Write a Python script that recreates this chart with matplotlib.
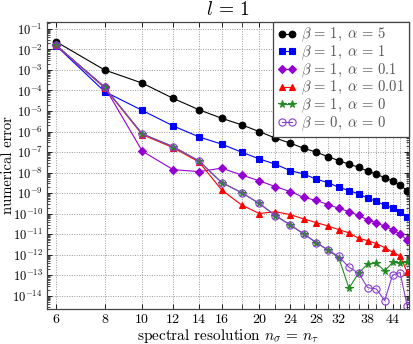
import numpy as np
import matplotlib
matplotlib.use('Agg')
import matplotlib.pyplot as plt
import matplotlib.ticker as ticker

plt.rcParams['font.family'] = 'serif'
plt.rcParams['font.serif'] = ['cmr10']
plt.rcParams['mathtext.fontset'] = 'cm'
plt.rcParams['axes.formatter.use_mathtext'] = True

n = np.arange(6, 49, 2)

# log10 of the numerical error
err_b1_a5 = [-1.62, -3.00, -3.64, -4.38, -4.94, -5.35, -5.67, -6.00, -6.32, -6.56, -6.81,
             -7.00, -7.22, -7.41, -7.59, -7.73, -7.93, -8.07, -8.25, -8.40, -8.61, -8.87]
err_b1_a1 = [-1.81, -4.05, -4.97, -5.72, -6.26, -6.61, -7.00, -7.33, -7.59, -7.90, -8.06,
             -8.32, -8.48, -8.71, -8.87, -9.03, -9.24, -9.40, -9.58, -9.72, -9.89, -10.17]
err_b1_a01 = [-1.80, -3.82, -6.95, -7.85, -7.95, -7.78, -8.11, -8.40, -8.68, -8.92, -9.20,
              -9.35, -9.55, -9.73, -9.90, -10.08, -10.30, -10.45, -10.60, -10.78, -11.00, -11.27]
err_b1_a001 = [-1.80, -3.86, -6.15, -6.78, -7.48, -8.84, -9.57, -9.99, -9.90, -10.04, -10.25,
               -10.43, -10.59, -10.77, -10.93, -11.19, -11.31, -11.45, -11.65, -11.86, -12.05, -12.85]
err_b1_a0 = [-1.78, -3.85, -6.11, -6.73, -7.43, -8.48, -8.97, -9.50, -10.09, -10.54, -10.98,
             -11.40, -11.76, -12.14, -13.62, -12.89, -12.44, -12.41, -12.78, -12.37, -12.40, -12.36]
err_b0_a0 = [-1.78, -3.85, -6.11, -6.73, -7.43, -8.48, -8.97, -9.50, -10.09, -10.54, -10.98,
             -11.40, -11.76, -12.08, -12.60, -12.89, -13.60, -13.66, -14.23, -12.99, -12.86, -14.49]

xtick_vals = [6, 8, 10, 12, 14, 16, 20, 24, 28, 32, 38, 44]

series = [
    (err_b1_a5, r'$\beta\,=\,1,\;\alpha\,=\,5$', 'black', 'o', 'black'),
    (err_b1_a1, r'$\beta\,=\,1,\;\alpha\,=\,1$', '#0000ff', 's', '#0000ff'),
    (err_b1_a01, r'$\beta\,=\,1,\;\alpha\,=\,0.1$', '#9400d3', 'D', '#9400d3'),
    (err_b1_a001, r'$\beta\,=\,1,\;\alpha\,=\,0.01$', '#ff0000', '^', '#ff0000'),
    (err_b1_a0, r'$\beta\,=\,1,\;\alpha\,=\,0$', '#228b22', '*', '#228b22'),
    (err_b0_a0, r'$\beta\,=\,0,\;\alpha\,=\,0$', '#8a3ccf', 'o', 'none'),
]

fig = plt.figure(figsize=(4.14, 3.44), dpi=100)
ax = fig.add_axes([0.1135, 0.1009, 0.8735, 0.8361])

for vals, lab, col, mk, fc in series:
    ms = {'o': 4.8, 's': 4.2, 'D': 3.6, '^': 4.6, '*': 5.5}[mk]
    if fc == 'none':
        ms = 5.2
    ax.plot(n, 10.0 ** np.array(vals), color=col, lw=0.8, marker=mk, ms=ms,
            mfc=fc, mec=col, mew=0.8, label=lab)

ax.set_xscale('log')
ax.set_yscale('log')
ax.set_xlim(5.69, 48.4)
ax.set_ylim(10 ** -14.65, 10 ** -0.65)

ax.xaxis.set_major_locator(ticker.FixedLocator(xtick_vals))
ax.xaxis.set_major_formatter(ticker.FixedFormatter([str(v) for v in xtick_vals]))
ax.xaxis.set_minor_locator(ticker.FixedLocator([v for v in n if v not in xtick_vals]))
ax.xaxis.set_minor_formatter(ticker.NullFormatter())
ax.yaxis.set_major_locator(ticker.LogLocator(base=10, numticks=30))
ax.yaxis.set_minor_locator(ticker.LogLocator(base=10, subs=np.arange(2, 10), numticks=300))
ax.yaxis.set_minor_formatter(ticker.NullFormatter())

ax.tick_params(which='both', direction='in', top=True, right=True, colors='black')
ax.tick_params(axis='y', labelsize=9, pad=3)
ax.tick_params(axis='x', labelsize=10)
ax.tick_params(which='major', length=3.5, width=0.6)
ax.tick_params(which='minor', length=2, width=0.5)
ax.tick_params(axis='x', which='minor', length=3.5)

ax.grid(True, which='major', axis='both', color='#999999', ls=(0, (1, 1.5)), lw=0.7)
ax.grid(True, which='minor', axis='x', color='#999999', ls=(0, (1, 1.5)), lw=0.7)

for sp in ax.spines.values():
    sp.set_color('#444444')
    sp.set_linewidth(0.9)

ax.set_title(r'$l\,=\,1$', fontsize=14, pad=5)
ax.set_ylabel('numerical error', fontsize=10.5)
ax.yaxis.set_label_coords(-0.088, 0.5)
ax.set_xlabel(r'spectral resolution $n_\sigma\,=\,n_\tau$', fontsize=11)
ax.xaxis.set_label_coords(0.5, -0.063)

leg = ax.legend(loc='upper right', fontsize=10.5, fancybox=False, framealpha=1,
                edgecolor='#444444', borderaxespad=0, handlelength=1.3, numpoints=2,
                handletextpad=0.3, labelspacing=-0.05, borderpad=0.3, labelcolor='#555555')
leg.get_frame().set_linewidth(0.9)

fig.savefig('out.png', dpi=100)
